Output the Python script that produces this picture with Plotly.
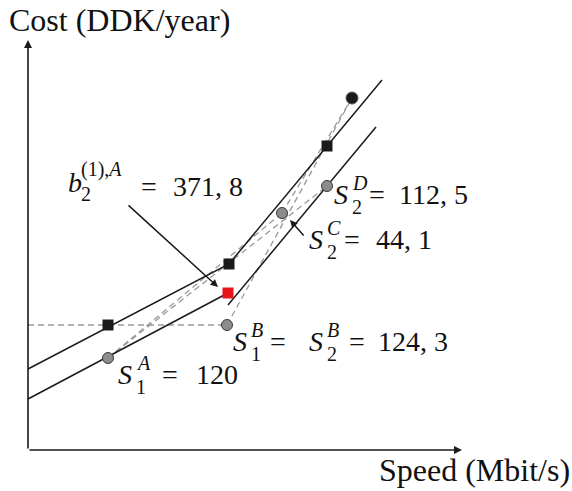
import plotly.graph_objects as go

# Schematic cost curves (arbitrary units; origin at the corner of the axes)
upper_speed = [0, 201, 354]
upper_cost = [81, 186, 370]
lower_speed_a = [0, 200]
lower_cost_a = [51, 157]
lower_speed_b = [200, 348]
lower_cost_b = [145, 323]

# Sample points S1A, S1B, S2C, S2D
sample_speed = [80, 199, 254, 299]
sample_cost = [92, 125, 237, 264]

# Interpolated breakpoints on the upper curve
break_speed = [80, 201, 299]
break_cost = [125, 186, 304]

# Highlighted breakpoint b2(1),A and end point
red_speed = [200]
red_cost = [157]
end_speed = [324]
end_cost = [352]

# Dashed connectors between points: (from, to)
s1a = (sample_speed[0], sample_cost[0])
s1b = (sample_speed[1], sample_cost[1])
s2c = (sample_speed[2], sample_cost[2])
s2d = (sample_speed[3], sample_cost[3])
end_pt = (end_speed[0], end_cost[0])
dashed_pairs = [
    ((0, sample_cost[1]), s1b),
    (s1a, s2d),
    (s1a, s2c),
    (s1b, end_pt),
    (s2c, end_pt),
]

# Label values
val_s1a = "120"
val_s1b = "124, 3"
val_s2c = "44, 1"
val_s2d = "112, 5"
val_b2 = "371, 8"

LINE = "#1a1a1a"
DASH = "#9a9a9a"
FONT = "Liberation Serif"

fig = go.Figure()

for (p, q) in dashed_pairs:
    fig.add_trace(go.Scatter(x=[p[0], q[0]], y=[p[1], q[1]], mode="lines",
                             line=dict(color=DASH, width=1.3, dash="6px,4px"),
                             hoverinfo="skip", showlegend=False))

for xs, ys in [(upper_speed, upper_cost), (lower_speed_a, lower_cost_a),
               (lower_speed_b, lower_cost_b)]:
    fig.add_trace(go.Scatter(x=xs, y=ys, mode="lines",
                             line=dict(color=LINE, width=1.5),
                             hoverinfo="skip", showlegend=False))

fig.add_trace(go.Scatter(x=break_speed, y=break_cost, mode="markers",
                         marker=dict(symbol="square", size=11, color="#1a1a1a"),
                         showlegend=False))
fig.add_trace(go.Scatter(x=red_speed, y=red_cost, mode="markers",
                         marker=dict(symbol="square", size=11, color="#e8141c"),
                         showlegend=False))
fig.add_trace(go.Scatter(x=sample_speed, y=sample_cost, mode="markers",
                         marker=dict(symbol="circle", size=11, color="#8c8c8c",
                                     line=dict(color="#3a3a3a", width=1)),
                         showlegend=False))
fig.add_trace(go.Scatter(x=end_speed, y=end_cost, mode="markers",
                         marker=dict(symbol="circle", size=12, color="#1a1a1a",
                                     line=dict(color="#555", width=1)),
                         showlegend=False))

annotations = []


def arrow(tail, tip, width=1.5, size=1.1):
    annotations.append(dict(x=tip[0], y=tip[1], ax=tail[0], ay=tail[1],
                            xref="x", yref="y", axref="x", ayref="y",
                            showarrow=True, arrowhead=2, arrowsize=size,
                            arrowwidth=width, arrowcolor=LINE, text=""))


def text(x, y, s, size=28, anchor="left", yanchor="middle"):
    annotations.append(dict(x=x, y=y, xref="x", yref="y", text=s,
                            showarrow=False, xanchor=anchor, yanchor=yanchor,
                            borderpad=0,
                            font=dict(family=FONT, size=size, color="#111")))


def scripts(x, split, sup, sub, small=20):
    # superscript sits just above the split line, subscript just below
    text(x, split, sup, small, yanchor="bottom")
    text(x, split, sub, small, yanchor="top")


def sym(x, y, base, sub, sup, dx=18, size=28):
    text(x, y, f"<i>{base}</i>", size)
    scripts(x + dx, y - 1, sup, sub)


# Axes with arrow heads
arrow((0, 0), (434, 0), width=1.6, size=1.0)
arrow((0, 0), (0, 410), width=1.6, size=1.0)
text(91, 430, "Cost (DDK/year)", 32, "center")
text(446, -20, "Speed (Mbit/s)", 32, "center")

# S1A = 120
sym(89, 76, "S", "1", "<i>A</i>")
text(133, 76, "=")
text(167, 76, val_s1a)

# S1B = S2B = 124, 3
sym(204, 109, "S", "1", "<i>B</i>")
text(241, 109, "=")
sym(280, 109, "S", "2", "<i>B</i>")
text(320, 109, "=")
text(349, 109, val_s1b)

# S2D = 112, 5
sym(305, 256, "S", "2", "<i>D</i>")
text(340, 256, "=")
text(370, 256, val_s2d)

# S2C = 44, 1
sym(280, 211, "S", "2", "<i>C</i>")
text(315, 211, "=")
text(347, 211, val_s2c)
arrow((277, 213), (262, 230), width=1.5, size=1.0)

# b2(1),A = 371, 8
text(39, 268, "<i>b</i>")
scripts(52, 268, "(1),<i>A</i>", "2")
text(112, 264, "=")
text(144, 264, val_b2)
arrow((99, 246), (190, 163), width=1.5, size=1.0)

fig.update_layout(
    width=572, height=491,
    margin=dict(l=0, r=0, t=0, b=0),
    paper_bgcolor="white", plot_bgcolor="white",
    font=dict(family=FONT, color="#111"),
    xaxis=dict(range=[-28, 544], visible=False, fixedrange=True),
    yaxis=dict(range=[-41, 450], visible=False, fixedrange=True),
    annotations=annotations,
    showlegend=False,
)

fig.write_html("out.html")
